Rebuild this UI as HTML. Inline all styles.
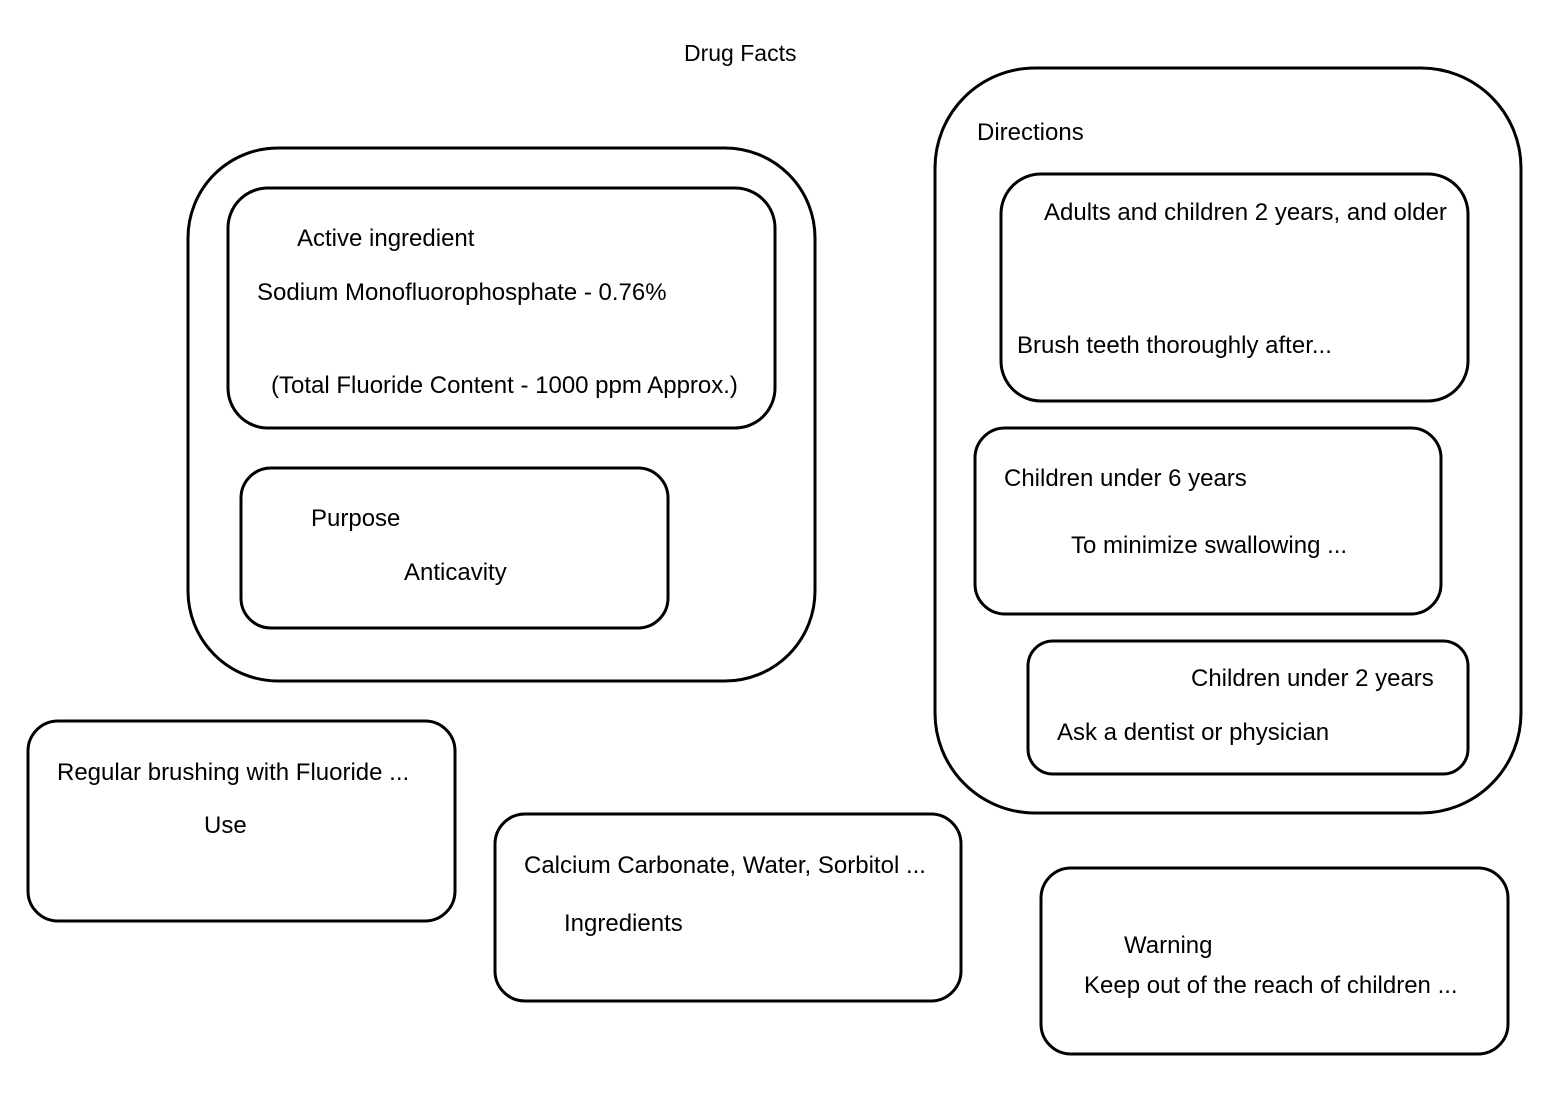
<!DOCTYPE html>
<html><head><meta charset="utf-8"><style>
html,body{margin:0;padding:0;background:#fff;}
svg{display:block;}
text{font-family:"Liberation Sans",sans-serif;font-size:24px;fill:#000;}
rect{fill:none;stroke:#000;stroke-width:3;}
</style></head><body>
<svg width="1551" height="1100" xmlns="http://www.w3.org/2000/svg">
<rect x="188" y="148" width="627" height="533" rx="90" ry="90"/>
<rect x="228" y="188" width="547" height="240" rx="40" ry="40"/>
<rect x="241" y="468" width="427" height="160" rx="30" ry="30"/>
<rect x="935" y="68" width="586" height="745" rx="100" ry="100"/>
<rect x="1001" y="174" width="467" height="227" rx="40" ry="40"/>
<rect x="975" y="428" width="466" height="186" rx="30" ry="30"/>
<rect x="1028" y="641" width="440" height="133" rx="25" ry="25"/>
<rect x="28" y="721" width="427" height="200" rx="30" ry="30"/>
<rect x="495" y="814" width="466" height="187" rx="30" ry="30"/>
<rect x="1041" y="868" width="467" height="186" rx="30" ry="30"/>

<text x="684" y="61" style="font-size:23px">Drug Facts</text>
<text x="297" y="246">Active ingredient</text>
<text x="257" y="300">Sodium Monofluorophosphate - 0.76%</text>
<text x="271" y="393">(Total Fluoride Content - 1000 ppm Approx.)</text>
<text x="311" y="526">Purpose</text>
<text x="404" y="580">Anticavity</text>
<text x="977" y="140">Directions</text>
<text x="1044" y="220">Adults and children 2 years, and older</text>
<text x="1017" y="353">Brush teeth thoroughly after...</text>
<text x="1004" y="486">Children under 6 years</text>
<text x="1071" y="553">To minimize swallowing ...</text>
<text x="1191" y="686">Children under 2 years</text>
<text x="1057" y="740">Ask a dentist or physician</text>
<text x="57" y="780">Regular brushing with Fluoride ...</text>
<text x="204" y="833">Use</text>
<text x="524" y="873">Calcium Carbonate, Water, Sorbitol ...</text>
<text x="564" y="931">Ingredients</text>
<text x="1124" y="953">Warning</text>
<text x="1084" y="993">Keep out of the reach of children ...</text>
</svg>
</body></html>
